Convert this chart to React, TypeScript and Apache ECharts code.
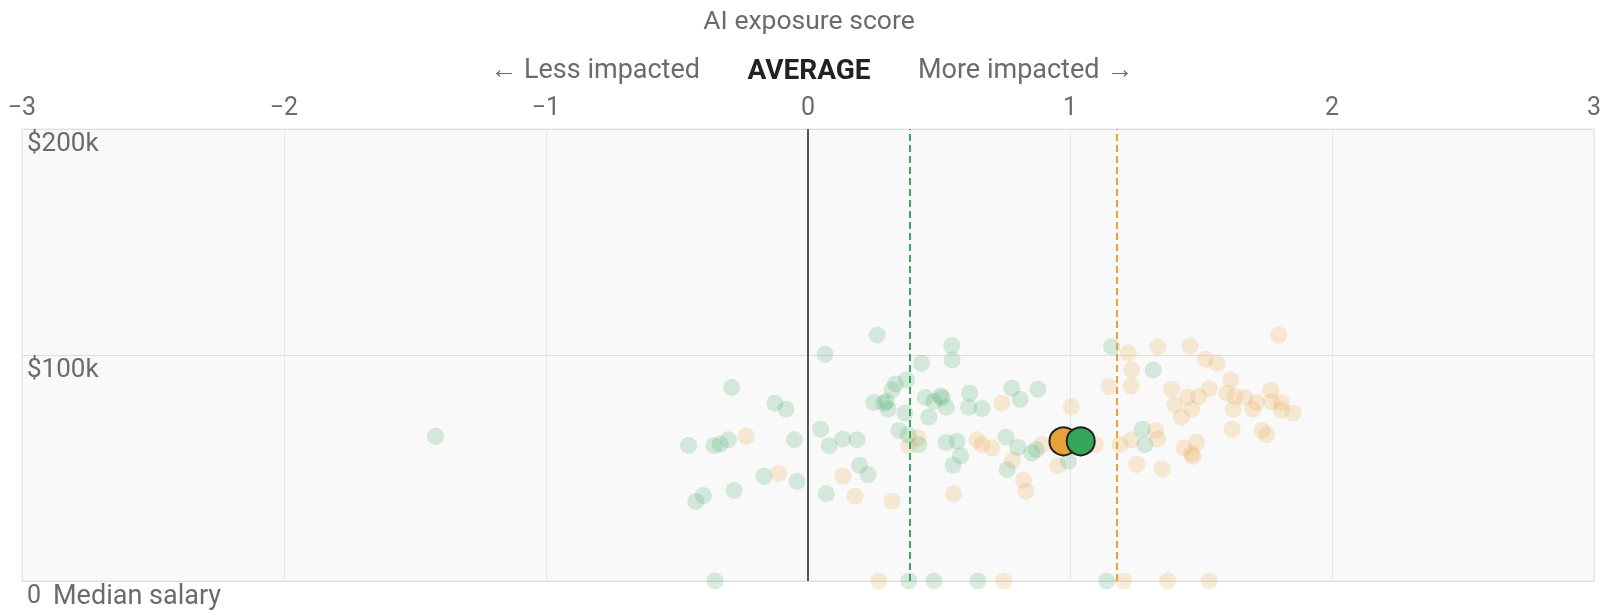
import React, { useEffect, useRef } from "react";
import * as echarts from "echarts";

// AI exposure score (x) vs median salary in $k (y)
const greenPoints: [number, number][] = [
  [-1.422, 64.0], [-0.291, 85.7], [-0.126, 78.7], [-0.084, 76.0], [-0.456, 60.0],
  [-0.358, 59.9], [-0.335, 60.6], [-0.304, 62.5], [-0.052, 62.5], [-0.168, 46.3],
  [-0.042, 44.1], [-0.282, 40.1], [-0.399, 37.8], [-0.428, 35.2], [-0.355, 0],
  [0.264, 108.8], [0.065, 100.3], [0.549, 104.1], [0.55, 97.8], [0.433, 96.3],
  [0.334, 87.2], [0.376, 89.0], [0.321, 84.6], [0.251, 79.0], [0.29, 78.7],
  [0.306, 76.0], [0.37, 74.3], [0.448, 81.2], [0.48, 79.4], [0.506, 81.9],
  [0.528, 76.9], [0.461, 72.5], [0.617, 83.1], [0.613, 76.9], [0.664, 76.3],
  [0.048, 67.2], [0.081, 59.9], [0.133, 62.8], [0.187, 62.5], [0.347, 66.6],
  [0.382, 64.7], [0.423, 60.3], [0.528, 61.3], [0.569, 61.8], [0.582, 55.4],
  [0.554, 51.2], [0.197, 51.2], [0.229, 47.1], [0.07, 38.6], [0.385, 0],
  [0.48, 0], [0.648, 0], [0.778, 85.3], [0.81, 80.4], [0.877, 84.9],
  [0.756, 63.7], [0.801, 59.1], [0.854, 56.6], [0.871, 58.1], [0.76, 49.3],
  [0.994, 52.9], [1.159, 103.7], [1.14, 0], [1.318, 93.4], [1.276, 67.2],
  [1.286, 60.3], [0.3, 79.5], [0.512, 81.0],
];

const orangePoints: [number, number][] = [
  [-0.236, 64.0], [-0.112, 47.5], [0.42, 63.3], [0.385, 59.9], [0.645, 62.5],
  [0.664, 60.3], [0.133, 46.3], [0.179, 37.5], [0.321, 35.3], [0.556, 38.6],
  [0.27, 0], [0.74, 78.7], [1.005, 77.2], [0.702, 58.8], [0.781, 53.4],
  [0.823, 44.6], [0.832, 39.7], [0.893, 60.3], [0.954, 51.0], [1.096, 60.3],
  [1.191, 60.3], [1.223, 100.8], [1.235, 93.4], [1.233, 86.3], [1.149, 86.0],
  [1.255, 51.5], [1.235, 62.5], [0.747, 0], [1.204, 0], [1.335, 103.7],
  [1.458, 104.0], [1.797, 108.8], [1.517, 98.1], [1.561, 96.3], [1.388, 84.9],
  [1.449, 81.3], [1.492, 81.6], [1.531, 85.1], [1.614, 89.0], [1.598, 83.1],
  [1.63, 81.6], [1.667, 81.2], [1.712, 79.0], [1.767, 84.3], [1.769, 79.4],
  [1.807, 79.0], [1.807, 75.7], [1.851, 74.3], [1.699, 76.0], [1.4, 77.9],
  [1.425, 72.5], [1.464, 76.0], [1.623, 76.0], [1.619, 67.2], [1.733, 66.6],
  [1.75, 64.7], [1.327, 66.6], [1.335, 62.8], [1.436, 58.8], [1.483, 61.3],
  [1.464, 56.3], [1.47, 55.1], [1.352, 49.6], [1.373, 0], [1.531, 0],
];

const orangeAverage: [number, number][] = [[0.975, 61.8]];
const greenAverage: [number, number][] = [[1.041, 61.8]];
const greenMeanScore = 0.386;
const orangeMeanScore = 1.18;
const xTicks = [-3, -2, -1, 0, 1, 2, 3];
const yTicks = [0, 100, 200];

const GREEN = "#3aa760";
const ORANGE = "#eda03a";
const FONT = "Roboto, 'Noto Sans', sans-serif";
const GRAY = "#6b6b6b";

export default function App() {
  const ref = useRef<HTMLDivElement>(null);
  useEffect(() => {
    if (!ref.current) return;
    const chart = echarts.init(ref.current, undefined, { renderer: "svg" });
    chart.setOption({
      animation: false,
      textStyle: { fontFamily: FONT },
      grid: {
        left: 22,
        right: 10,
        top: 129,
        bottom: 29,
        show: true,
        backgroundColor: "#f9f9f9",
        borderColor: "#e6e6e6",
        borderWidth: 1,
      },
      xAxis: {
        type: "value",
        position: "top",
        min: xTicks[0],
        max: xTicks[xTicks.length - 1],
        interval: 1,
        axisLine: { show: false },
        axisTick: { show: false },
        splitLine: { lineStyle: { color: "#e8e8e8", width: 1 } },
        axisLabel: {
          color: GRAY,
          fontSize: 25,
          fontFamily: FONT,
          margin: 10,
          formatter: (v: number) => String(v).replace("-", "\u2212"),
        },
      },
      yAxis: {
        type: "value",
        min: yTicks[0],
        max: yTicks[yTicks.length - 1],
        interval: 100,
        axisLine: { show: false },
        axisTick: { show: false },
        splitLine: { lineStyle: { color: "#dedede", width: 1 } },
        axisLabel: {
          inside: true,
          margin: 5,
          align: "left",
          verticalAlign: "top",
          color: GRAY,
          fontSize: 26,
          fontFamily: FONT,
          formatter: (v: number) => (v === 0 ? "{z|0}{m|Median salary}" : `$${v}k`),
          rich: {
            z: { fontSize: 25, color: GRAY, fontFamily: FONT },
            m: { fontSize: 27, color: GRAY, fontFamily: FONT, padding: [0, 0, 0, 12] },
          },
        },
      },
      graphic: [
        {
          type: "text",
          x: 809,
          y: 19,
          style: { text: "AI exposure score", fill: GRAY, font: `26.5px ${FONT}`, align: "center", verticalAlign: "middle" },
        },
        {
          type: "text",
          x: 700,
          y: 69,
          style: { text: "\u2190 Less impacted", fill: GRAY, font: `27px ${FONT}`, align: "right", verticalAlign: "middle" },
        },
        {
          type: "text",
          x: 809,
          y: 69,
          style: { text: "AVERAGE", fill: "#222", font: `bold 28px ${FONT}`, align: "center", verticalAlign: "middle" },
        },
        {
          type: "text",
          x: 918,
          y: 69,
          style: { text: "More impacted \u2192", fill: GRAY, font: `27px ${FONT}`, align: "left", verticalAlign: "middle" },
        },
      ],
      series: [
        {
          name: "orange",
          type: "scatter",
          data: orangePoints,
          symbolSize: 17,
          clip: false,
          z: 2,
          itemStyle: { color: ORANGE, opacity: 0.2 },
        },
        {
          name: "green",
          type: "scatter",
          data: greenPoints,
          symbolSize: 17,
          clip: false,
          z: 2,
          itemStyle: { color: GREEN, opacity: 0.2 },
          markLine: {
            silent: true,
            symbol: "none",
            label: { show: false },
            z: 3,
            data: [
              { xAxis: 0, lineStyle: { color: "#555", width: 2, type: "solid" } },
              { xAxis: greenMeanScore, lineStyle: { color: GREEN, width: 2, type: [7, 4] } },
              { xAxis: orangeMeanScore, lineStyle: { color: ORANGE, width: 2, type: [7, 4] } },
            ],
          },
        },
        {
          name: "orangeAvg",
          type: "scatter",
          data: orangeAverage,
          symbolSize: 28,
          clip: false,
          z: 5,
          itemStyle: { color: "#e8a136", borderColor: "#222", borderWidth: 2, opacity: 1 },
        },
        {
          name: "greenAvg",
          type: "scatter",
          data: greenAverage,
          symbolSize: 28,
          clip: false,
          z: 6,
          itemStyle: { color: "#35a55a", borderColor: "#222", borderWidth: 2, opacity: 1 },
        },
      ],
    });
    return () => chart.dispose();
  }, []);
  return <div ref={ref} style={{ position: "fixed", left: 0, top: 0, width: 1604, height: 610 }} />;
}
